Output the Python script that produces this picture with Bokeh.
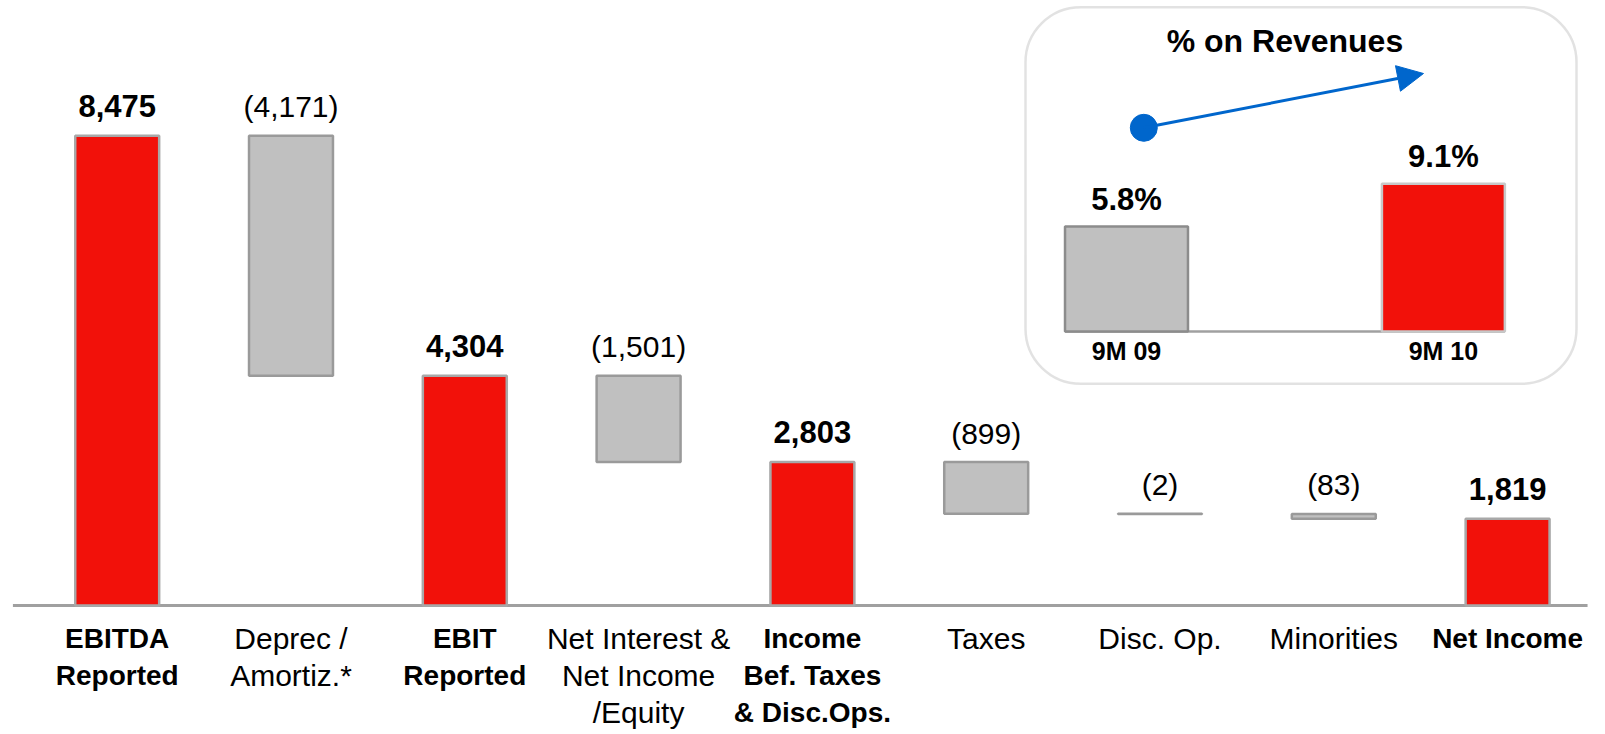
import numpy as np
from bokeh.plotting import figure
from bokeh.models import Range1d, ColumnDataSource, BoxAnnotation, Arrow, NormalHead
from bokeh.core.properties import value
from bokeh.embed import file_html
from bokeh.resources import INLINE

# ---------------- data ----------------
categories = [
    "EBITDA\nReported",
    "Deprec /\nAmortiz.*",
    "EBIT\nReported",
    "Net Interest &\nNet Income\n/Equity",
    "Income\nBef. Taxes\n& Disc.Ops.",
    "Taxes",
    "Disc. Op.",
    "Minorities",
    "Net Income",
]
values = [8475, -4171, 4304, -1501, 2803, -899, -2, -83, 1819]
is_total = [True, False, True, False, True, False, False, False, True]

inset_title = "% on Revenues"
inset_periods = ["9M 09", "9M 10"]
inset_values = [5.8, 9.1]
inset_is_current = [False, True]

# ---------------- style / layout ----------------
W, H = 1605, 734
FONT = "Liberation Sans"
RED = "#F2110A"
GREY = "#C0C0C0"
BLUE = "#0066CC"

step_px = 173.8        # px between category centres
first_center_px = 116.7
base_px = 605          # baseline pixel row
px_per_unit = 0.05754
floor_val = 310        # value at the baseline

x_start = -first_center_px / step_px
x_end = x_start + W / step_px
y_end = floor_val + base_px / px_per_unit
y_start = floor_val - (H - base_px) / px_per_unit

p = figure(width=W, height=H, x_range=Range1d(x_start, x_end),
           y_range=Range1d(y_start, y_end), output_backend="svg",
           toolbar_location=None, min_border=0, x_axis_location=None,
           y_axis_location=None, outline_line_color=None,
           background_fill_color="white", border_fill_color="white")
p.grid.grid_line_color = None

pos = list(range(len(categories)))

# waterfall geometry
tops, bottoms = [], []
running = 0
for v, t in zip(values, is_total):
    if t:
        tops.append(v)
        bottoms.append(floor_val)
        running = v
    else:
        tops.append(running)
        bottoms.append(running + v)
        running += v

fills = [RED if t else GREY for t in is_total]
lines = ["#A8A8A8" if t else "#9A9A9A" for t in is_total]

# baseline
p.segment(x0=[pos[0] - 0.6], y0=[floor_val], x1=[pos[-1] + 0.46], y1=[floor_val],
          line_color="#A0A0A0", line_width=3)

p.vbar(x=pos, top=tops, bottom=bottoms, width=0.483, fill_color=fills,
       line_color=lines, line_width=2.5)

def fmt(v):
    return f"{v:,}" if v >= 0 else f"({-v:,})"

tot_src = ColumnDataSource(dict(
    x=[x for x, t in zip(pos, is_total) if t],
    y=[y for y, t in zip(tops, is_total) if t],
    text=[fmt(v) for v, t in zip(values, is_total) if t]))
delta_src = ColumnDataSource(dict(
    x=[x for x, t in zip(pos, is_total) if not t],
    y=[y for y, t in zip(tops, is_total) if not t],
    text=[fmt(v) for v, t in zip(values, is_total) if not t]))

p.text(x="x", y="y", text="text", source=tot_src, y_offset=-30,
       text_align="center", text_baseline="alphabetic",
       text_font=value(FONT), text_font_size="31px", text_font_style="bold",
       text_color="black")
p.text(x="x", y="y", text="text", source=delta_src, y_offset=-29,
       text_align="center", text_baseline="alphabetic",
       text_font=value(FONT), text_font_size="30px", text_font_style="normal",
       text_color="black")

# category labels, one text per line
for bold in (True, False):
    xs, ys, txt, offs = [], [], [], []
    for x, cat, t in zip(pos, categories, is_total):
        if t != bold:
            continue
        for j, line in enumerate(cat.split("\n")):
            xs.append(x)
            ys.append(floor_val)
            txt.append(line)
            offs.append(33 + 37 * j)
    p.text(x=xs, y=ys, text=txt, y_offset=offs, text_align="center",
           text_baseline="alphabetic", text_font=value(FONT),
           text_font_size="28px" if bold else "30px",
           text_font_style="bold" if bold else "normal", text_color="black")

# ---------------- inset ----------------
ix_step = 316.9
ix0_px = 1126.0
iy_base_px = 331
iy_ppu = 12.94
iy_floor = -2.315

p.extra_x_ranges = {"ix": Range1d(-ix0_px / ix_step, (W - ix0_px) / ix_step)}
p.extra_y_ranges = {"iy": Range1d(iy_floor - (H - iy_base_px) / iy_ppu,
                                  iy_floor + iy_base_px / iy_ppu)}

def ipx_x(px):
    return (px - ix0_px) / ix_step

def ipx_y(py):
    return iy_floor + (iy_base_px - py) / iy_ppu

box = BoxAnnotation(left=ipx_x(1025), right=ipx_x(1576), top=ipx_y(6.7),
                    bottom=ipx_y(383.3), x_range_name="ix", y_range_name="iy",
                    fill_alpha=0, line_color="#A0A0A0", line_width=2.5,
                    border_radius=55)
p.add_layout(box)

ipos = list(range(len(inset_periods)))
iw = 0.388
p.segment(x0=[ipos[0] - iw / 2], y0=[iy_floor], x1=[ipos[-1] + iw / 2], y1=[iy_floor],
          line_color="#A0A0A0", line_width=2.5, x_range_name="ix", y_range_name="iy")
p.vbar(x=ipos, top=inset_values, bottom=iy_floor, width=iw,
       fill_color=[RED if c else GREY for c in inset_is_current],
       line_color=["#C8C8C8" if c else "#8C8C8C" for c in inset_is_current],
       line_width=2.5, x_range_name="ix", y_range_name="iy")

p.text(x=ipos, y=inset_values, text=[f"{v:.1f}%" for v in inset_values],
       y_offset=-27, text_align="center", text_baseline="alphabetic",
       text_font=value(FONT), text_font_size="31px", text_font_style="bold",
       x_range_name="ix", y_range_name="iy")
p.text(x=ipos, y=[iy_floor] * len(ipos), text=inset_periods, y_offset=19,
       text_align="center", text_baseline="alphabetic",
       text_font=value(FONT), text_font_size="25px", text_font_style="bold",
       x_range_name="ix", y_range_name="iy")
p.text(x=[(ipos[0] + ipos[-1]) / 2], y=[ipx_y(40)], text=[inset_title],
       text_align="center", text_baseline="alphabetic",
       text_font=value(FONT), text_font_size="32px", text_font_style="bold",
       x_range_name="ix", y_range_name="iy")

# trend arrow
ax0, ay0 = ipx_x(1143.3), ipx_y(127.3)
ax1, ay1 = ipx_x(1423), ipx_y(73)
p.add_layout(Arrow(x_start=ax0, y_start=ay0, x_end=ax1, y_end=ay1,
                   x_range_name="ix", y_range_name="iy",
                   line_color=BLUE, line_width=3,
                   end=NormalHead(size=26, fill_color=BLUE, line_color=BLUE)))
p.scatter(x=[ax0], y=[ay0], size=27, color=BLUE, x_range_name="ix", y_range_name="iy")

open("out.html", "w").write(file_html(p, INLINE))
